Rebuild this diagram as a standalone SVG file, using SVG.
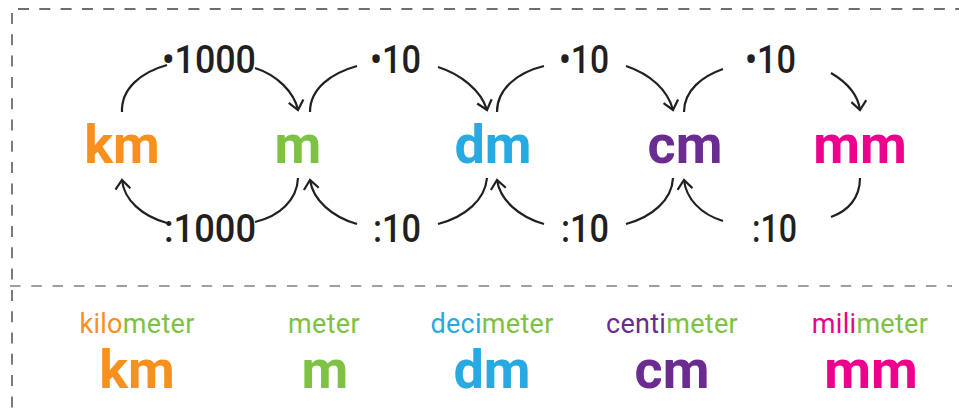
<svg xmlns="http://www.w3.org/2000/svg" width="959" height="408" viewBox="0 0 959 408">
<defs>
<style>
.border{fill:none;stroke:#6d6e71;stroke-width:1.8;stroke-dasharray:11 10.3}
.sep{fill:none;stroke:#9d9fa2;stroke-width:2.2;stroke-dasharray:10.5 10.8}
.arc{fill:none;stroke:#231f20;stroke-width:2.2;stroke-linecap:butt}
.unit{font-family:Roboto,"Liberation Sans",sans-serif;font-weight:700;font-size:54px;text-anchor:middle}
.num{font-family:Roboto,"Liberation Sans",sans-serif;font-weight:500;font-size:39px;fill:#231f20}
.name{font-family:Roboto,"Liberation Sans",sans-serif;font-weight:400;font-size:27px;text-anchor:middle;letter-spacing:0.3px}
.or{fill:#f7901e}.gr{fill:#7dc242}.bl{fill:#27aae1}.pu{fill:#6b2c91}.mg{fill:#ec008c}
</style>
<marker id="ah" viewBox="-11 -9 13 18" refX="0" refY="0" markerWidth="13" markerHeight="18" markerUnits="userSpaceOnUse" orient="auto">
<path d="M-9,-7.5 L0,0 L-9,7.5" fill="none" stroke="#231f20" stroke-width="2.2" stroke-linejoin="miter"/>
</marker>
</defs>
<g id="frame">
<path class="border" d="M18,9 H959"/>
<path class="border" d="M12,13 V408"/>
<path class="sep" d="M10,286 H952"/>
</g>
<g id="connectors">
<path class="arc" d="M122,112 C121,88 142,72 167,65"/>
<path class="arc" d="M255,68 C277,75 294,92 298,110" marker-end="url(#ah)"/>
<path class="arc" d="M310,112 C310,88 332,73 357,66"/>
<path class="arc" d="M438,67 C460,74 481,90 487,110" marker-end="url(#ah)"/>
<path class="arc" d="M497,112 C497,88 519,72 544,66"/>
<path class="arc" d="M626,66 C650,74 668,90 673,110" marker-end="url(#ah)"/>
<path class="arc" d="M684,112 C684,90 703,76 723,69"/>
<path class="arc" d="M831,73 C848,83 858,95 860,110" marker-end="url(#ah)"/>
<path class="arc" d="M298,178 C297,200 280,216 255,222"/>
<path class="arc" d="M167,223 C142,216 124,200 122,180" marker-end="url(#ah)"/>
<path class="arc" d="M487,178 C485,200 465,217 438,224"/>
<path class="arc" d="M357,224 C332,217 313,200 310,180" marker-end="url(#ah)"/>
<path class="arc" d="M673,178 C672,200 652,217 626,224"/>
<path class="arc" d="M544,224 C519,217 500,200 497,180" marker-end="url(#ah)"/>
<path class="arc" d="M860,178 C860,198 848,211 831,217"/>
<path class="arc" d="M723,221 C700,214 686,198 684,180" marker-end="url(#ah)"/>
</g>
<g id="labels-top">
<text class="num" x="162" y="73" textLength="94" lengthAdjust="spacingAndGlyphs">•1000</text>
<text class="num" x="370" y="73" textLength="51" lengthAdjust="spacingAndGlyphs">•10</text>
<text class="num" x="559" y="73" textLength="50" lengthAdjust="spacingAndGlyphs">•10</text>
<text class="num" x="745" y="73" textLength="51" lengthAdjust="spacingAndGlyphs">•10</text>
<text class="num" x="164" y="242" textLength="92" lengthAdjust="spacingAndGlyphs">:1000</text>
<text class="num" x="373" y="242" textLength="48" lengthAdjust="spacingAndGlyphs">:10</text>
<text class="num" x="561" y="242" textLength="48" lengthAdjust="spacingAndGlyphs">:10</text>
<text class="num" x="752" y="242" textLength="45" lengthAdjust="spacingAndGlyphs">:10</text>
</g>
<g id="node-km"><text class="unit or" x="122" y="163">km</text></g>
<g id="node-m"><text class="unit gr" x="298" y="163">m</text></g>
<g id="node-dm"><text class="unit bl" x="493" y="163">dm</text></g>
<g id="node-cm"><text class="unit pu" x="685" y="163">cm</text></g>
<g id="node-mm"><text class="unit mg" x="860" y="163">mm</text></g>
<g id="legend-km"><text class="name" x="137" y="333"><tspan class="or">kilo</tspan><tspan class="gr">meter</tspan></text><text class="unit or" x="137" y="388">km</text></g>
<g id="legend-m"><text class="name gr" x="324" y="333">meter</text><text class="unit gr" x="325" y="388">m</text></g>
<g id="legend-dm"><text class="name" x="492" y="333"><tspan class="bl">deci</tspan><tspan class="gr">meter</tspan></text><text class="unit bl" x="492" y="388">dm</text></g>
<g id="legend-cm"><text class="name" x="672" y="333"><tspan class="pu">centi</tspan><tspan class="gr">meter</tspan></text><text class="unit pu" x="672" y="388">cm</text></g>
<g id="legend-mm"><text class="name" x="870" y="333"><tspan class="mg">mili</tspan><tspan class="gr">meter</tspan></text><text class="unit mg" x="871" y="388">mm</text></g>
</svg>
